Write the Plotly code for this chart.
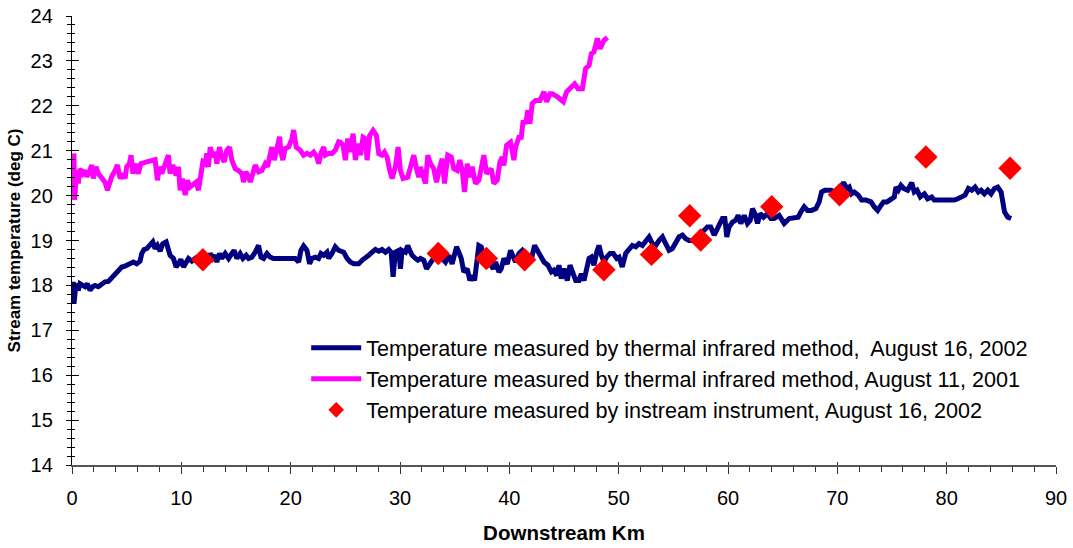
import plotly.graph_objects as go

# ---------------- data ----------------
ir2002_km = [0.12, 0.18, 0.37, 0.58, 0.73, 0.98, 1.19, 1.40, 1.65, 1.89, 2.11, 2.41, 2.72, 3.02, 3.33, 3.54,
             3.79, 4.09, 4.33, 4.55, 4.85, 5.07, 5.31, 5.62, 5.92, 6.23, 6.38, 6.59, 6.84, 7.14, 7.39, 7.60,
             7.81, 8.06, 8.30, 8.61, 8.82, 8.97, 9.28, 9.52, 9.74, 9.95, 10.20, 10.44, 10.65, 10.96, 11.26,
             11.57, 11.87, 12.18, 12.48, 12.64, 12.88, 13.10, 13.25, 13.49, 13.70, 14.01, 14.32, 14.62, 14.83,
             15.08, 15.38, 15.63, 15.93, 16.15, 16.45, 16.76, 17.06, 17.28, 17.52, 17.83, 18.13, 18.44, 18.89,
             19.96, 20.42, 20.73, 20.94, 21.18, 21.49, 21.73, 21.95, 22.25, 22.56, 22.77, 23.02, 23.32, 23.47,
             23.78, 24.08, 24.39,
             24.85, 25.16, 25.46, 25.77, 26.22, 26.53, 26.83, 27.14, 27.45, 27.75, 28.06, 28.36, 28.67, 28.97,
             29.19, 29.37, 29.58, 29.89, 30.04, 30.19, 30.50, 30.71, 30.89, 31.11, 31.41, 31.63, 31.87, 32.18,
             32.42, 32.63, 32.94, 33.25, 33.55, 33.86, 34.16, 34.47, 34.77, 34.99, 35.17, 35.38, 35.60, 35.84,
             36.15, 36.39, 36.60, 36.82, 37.00, 37.21, 37.43, 37.67, 37.92, 38.22, 38.53, 38.74, 39.05, 39.26,
             39.50, 39.81, 40.11, 40.36, 40.57, 40.88, 41.18, 41.64, 41.95, 42.31, 42.56, 42.86, 43.17, 43.53,
             43.84, 44.08, 44.33, 44.54, 44.75, 45.00, 45.30, 45.55, 45.76, 46.07, 46.37, 46.58, 46.83, 47.07,
             47.29, 47.50, 47.74, 47.99, 48.20, 48.42, 48.66, 48.90, 49.21, 49.51, 49.82, 50.03,
             50.33, 50.64, 50.94, 51.25, 51.56, 51.86, 52.17, 52.47, 52.78, 53.08, 53.39, 53.69, 54.00, 54.30,
             54.61, 54.91, 55.22, 55.52, 55.83, 56.13, 56.44, 56.74, 57.20, 57.81, 58.12, 58.42, 58.73, 58.88,
             59.19, 59.49, 59.71, 59.89, 60.10, 60.41, 60.71, 60.93, 61.17, 61.48, 61.78, 62.03, 62.24, 62.45,
             62.70, 62.94, 63.25, 63.61, 63.92, 64.22, 64.68, 65.14, 65.60, 66.05, 66.42, 66.67, 66.97, 67.28,
             67.64, 68.04, 68.34, 68.56, 68.86, 69.41, 69.87, 70.17, 70.57, 70.88, 71.09, 71.30, 71.55, 71.92,
             72.22, 72.62, 73.08, 73.38, 73.69, 73.99, 74.23, 74.54, 74.91, 75.21, 75.36, 75.58, 75.82, 76.07,
             76.43, 76.80, 77.04, 77.29, 77.59, 77.96, 78.26, 78.63, 78.87, 79.48, 80.40, 80.71, 81.01, 81.32,
             81.68, 81.99, 82.29, 82.60, 82.90, 83.15, 83.45, 83.76, 84.06, 84.37, 84.67, 84.98, 85.29, 85.59,
             85.90]
ir2002_temp = [18.08, 17.59, 18.04, 17.89, 18.04, 18.00, 17.97, 18.04, 17.89, 17.97, 18.00, 17.97, 18.04, 18.08,
               18.09, 18.15, 18.22, 18.30, 18.37, 18.41, 18.43, 18.46, 18.48, 18.52, 18.48, 18.54, 18.71, 18.80,
               18.82, 18.89, 18.97, 18.82, 18.89, 18.76, 18.93, 18.97, 18.78, 18.67, 18.60, 18.41, 18.48, 18.58,
               18.41, 18.52, 18.60, 18.54, 18.60, 18.52, 18.60, 18.52, 18.60, 18.71, 18.60, 18.67, 18.52, 18.71,
               18.60, 18.71, 18.60, 18.71, 18.78, 18.60, 18.71, 18.60, 18.67, 18.60, 18.63, 18.74, 18.89, 18.63,
               18.60, 18.71, 18.63, 18.60, 18.60, 18.60, 18.60, 18.52, 18.78, 18.88, 18.78, 18.48, 18.60, 18.63,
               18.60, 18.71, 18.67, 18.74, 18.60, 18.71, 18.86, 18.78,
               18.74, 18.60, 18.52, 18.48, 18.48, 18.56, 18.60, 18.67, 18.74, 18.80, 18.76, 18.80, 18.74, 18.80,
               18.74, 18.19, 18.74, 18.78, 18.37, 18.78, 18.74, 18.89, 18.78, 18.67, 18.60, 18.56, 18.60, 18.56,
               18.37, 18.45, 18.52, 18.67, 18.63, 18.60, 18.52, 18.67, 18.48, 18.74, 18.86, 18.74, 18.60, 18.30,
               18.37, 18.11, 18.22, 18.11, 18.60, 18.89, 18.86, 18.63, 18.52, 18.48, 18.37, 18.52, 18.30, 18.37,
               18.60, 18.48, 18.78, 18.60, 18.52, 18.71, 18.78, 18.60, 18.52, 18.89, 18.78, 18.67, 18.52, 18.45,
               18.30, 18.34, 18.22, 18.45, 18.15, 18.37, 18.11, 18.45, 18.30, 18.11, 18.11, 18.26, 18.11, 18.45,
               18.60, 18.63, 18.45, 18.74, 18.89, 18.67, 18.52, 18.63, 18.71, 18.71, 18.60, 18.63,
               18.41, 18.71, 18.78, 18.89, 18.86, 18.93, 18.89, 18.97, 19.08, 18.93, 18.89, 19.00, 19.08, 18.93,
               18.78, 18.82, 18.93, 19.08, 19.12, 19.04, 19.00, 19.00, 19.08, 19.23, 19.30, 19.30, 19.12, 19.19,
               19.38, 19.49, 19.49, 19.08, 19.30, 19.41, 19.45, 19.56, 19.38, 19.56, 19.38, 19.45, 19.71, 19.60,
               19.38, 19.60, 19.52, 19.60, 19.49, 19.49, 19.56, 19.38, 19.49, 19.52, 19.52, 19.64, 19.75, 19.67,
               19.67, 19.71, 19.86, 20.08, 20.12, 20.12, 20.08, 20.12, 20.29, 20.16, 20.19, 20.04, 20.08, 20.01,
               19.90, 19.90, 19.86, 19.75, 19.67, 19.78, 19.86, 19.86, 19.93, 19.97, 20.19, 20.12, 20.23, 20.16,
               20.12, 20.29, 20.08, 20.12, 19.97, 20.04, 19.93, 19.97, 19.90, 19.90, 19.90, 19.90, 19.93, 19.97,
               20.01, 20.16, 20.12, 20.19, 20.08, 20.12, 20.04, 20.12, 20.04, 20.16, 20.19, 20.08, 19.64, 19.52,
               19.49]

ir2001_km = [0.18, 0.24, 0.43, 0.58, 0.73, 0.98, 1.19, 1.34, 1.59, 1.80, 1.95, 2.20, 2.41, 2.72, 3.02, 3.24,
             3.42, 3.63, 3.94, 4.15, 4.40, 4.64, 4.85, 5.00, 5.25, 5.40, 5.56, 5.77, 6.07, 6.29, 6.84, 7.60,
             7.81, 8.00, 8.21, 8.52, 8.82, 8.97, 9.22, 9.52, 9.74, 9.89, 10.10, 10.35, 10.56, 10.80, 11.05,
             11.36, 11.57, 11.78, 11.97, 12.18, 12.33, 12.48, 12.64, 12.88, 13.10, 13.25, 13.49, 13.70, 13.92,
             14.16, 14.41, 14.62, 14.93, 15.23, 15.54, 15.69, 15.90, 16.15, 16.30, 16.54, 16.76, 17.06, 17.37,
             17.68, 17.89, 18.07, 18.28, 18.50, 18.74, 18.99, 19.11, 19.29, 19.50, 19.81, 20.12, 20.27, 20.51,
             20.88, 21.18, 21.49, 21.80, 22.10, 22.40, 22.56, 22.77, 23.02, 23.17, 23.47, 23.78, 24.08, 24.39,
             24.55, 24.79, 25.00, 25.22, 25.46, 25.71, 25.92, 26.13, 26.38, 26.62, 26.83, 26.99, 27.23, 27.54,
             27.84, 28.06, 28.36, 28.58, 28.82, 29.06, 29.28, 29.58, 29.83, 30.04, 30.28, 30.71, 30.96, 31.26,
             31.51, 31.72, 31.87, 32.12, 32.33, 32.54, 32.79, 33.09, 33.34, 33.64, 33.86, 34.07, 34.37, 34.68,
             34.92, 35.23, 35.47, 35.69, 35.90, 36.15, 36.39, 36.60, 36.91, 37.21, 37.43, 37.67, 37.92, 38.13,
             38.34, 38.59, 38.89, 39.14, 39.35, 39.50, 39.75, 40.11, 40.42, 40.57, 40.88, 41.09, 41.27, 41.49,
             41.70, 41.88, 42.10, 42.40, 42.80, 43.17, 43.41, 43.72, 43.93, 44.39, 44.94, 45.24, 45.67, 45.97,
             46.28, 46.68, 46.98, 47.29, 47.50, 47.74, 48.05, 48.30, 48.66, 48.97]
ir2001_temp = [20.94, 19.90, 20.56, 20.27, 20.60, 20.49, 20.56, 20.42, 20.53, 20.68, 20.38, 20.64, 20.49, 20.38,
               20.30, 20.12, 20.27, 20.42, 20.56, 20.68, 20.38, 20.49, 20.38, 20.64, 20.71, 20.90, 20.49, 20.71,
               20.49, 20.71, 20.75, 20.80, 20.34, 20.64, 20.49, 20.68, 20.90, 20.49, 20.68, 20.45, 20.64, 20.12,
               20.38, 20.01, 20.34, 20.19, 20.23, 20.30, 20.12, 20.56, 20.75, 20.71, 20.94, 20.64, 21.08, 20.86,
               20.97, 20.71, 21.08, 20.86, 20.75, 21.01, 21.08, 20.79, 20.60, 20.56, 20.49, 20.30, 20.53, 20.42,
               20.30, 20.49, 20.68, 20.53, 20.56, 20.71, 20.64, 20.86, 21.08, 20.79, 21.12, 21.31, 20.97, 20.79,
               21.05, 21.08, 21.27, 21.46, 21.08, 21.01, 20.90, 20.94, 20.90, 20.97, 20.86, 20.71, 20.94, 21.08,
               20.90, 20.94, 20.94, 21.01, 21.20,
               21.19, 21.12, 20.79, 21.27, 20.97, 21.38, 20.79, 21.16, 20.90, 21.30, 21.27, 20.79, 21.34, 21.45,
               21.34, 20.93, 20.90, 20.97, 20.86, 20.56, 20.38, 20.64, 21.08, 20.56, 20.38, 20.41, 20.64, 20.90,
               20.60, 20.41, 20.64, 20.41, 20.27, 20.90, 20.71, 20.60, 20.30, 20.64, 20.82, 20.27, 20.90, 20.86,
               20.60, 20.56, 20.79, 20.56, 20.08, 20.71, 20.41, 20.64, 20.27, 20.34, 20.64, 20.90, 20.49, 20.56,
               20.60, 20.27, 20.34, 20.75, 20.86, 20.67, 21.12, 21.19, 20.79, 21.08, 21.30, 21.30, 21.68, 21.60,
               21.90, 21.60, 22.05, 22.12, 22.12, 22.31, 22.09, 22.27, 22.27, 22.20, 22.09, 22.31, 22.42, 22.49,
               22.38, 22.38, 22.83, 22.90, 23.16, 23.20, 23.50, 23.27, 23.46, 23.52]

probe_km = [11.97, 33.5, 37.9, 41.4, 48.65, 53.0, 56.5, 57.5, 64.0, 70.2, 78.1, 85.8]
probe_temp = [18.57, 18.71, 18.60, 18.57, 18.35, 18.69, 19.55, 19.01, 19.75, 20.02, 20.86, 20.61]

names = ["Temperature measured by thermal infrared method,  August 16, 2002",
         "Temperature measured by thermal infrared method, August 11, 2001",
         "Temperature measured by instream instrument, August 16, 2002"]

x_ticks = [0, 10, 20, 30, 40, 50, 60, 70, 80, 90]
y_ticks = [14, 15, 16, 17, 18, 19, 20, 21, 22, 23, 24]

FONT = "Liberation Sans, Arial, sans-serif"

fig = go.Figure()
fig.add_trace(go.Scatter(x=ir2002_km, y=ir2002_temp, mode="lines", name=names[0],
                         legendgroup="a", line=dict(color="#000080", width=5)))
fig.add_trace(go.Scatter(x=ir2001_km, y=ir2001_temp, mode="lines", name=names[1],
                         legendgroup="b", line=dict(color="#FF00FF", width=5)))
fig.add_trace(go.Scatter(x=probe_km, y=probe_temp, mode="markers", name=names[2],
                         legendgroup="c",
                         marker=dict(symbol="diamond", size=18, color="#FF0000", line=dict(width=0))))
# empty trace on overlay axes (for inward half of crossing ticks)
fig.add_trace(go.Scatter(x=[], y=[], xaxis="x2", yaxis="y2", showlegend=False, hoverinfo="skip"))

fig.update_layout(
    width=1073, height=548,
    margin=dict(l=72, r=17, t=16, b=83, autoexpand=False),
    paper_bgcolor="white", plot_bgcolor="white",
    font=dict(family=FONT, color="black"),
    showlegend=True,
    legend=dict(x=0.238, y=0.307, xanchor="left", yanchor="top",
                font=dict(family=FONT, size=21.6, color="black"),
                bgcolor="rgba(0,0,0,0)", itemwidth=50, tracegroupgap=4,
                itemsizing="constant", traceorder="normal"),
    xaxis=dict(range=[0, 90], tickvals=x_ticks, ticks="outside", ticklen=7, tickcolor="#333",
               showline=True, linecolor="#555", linewidth=2, showgrid=False, zeroline=False,
               automargin=False,
               tickfont=dict(family=FONT, size=20), ticklabelstandoff=7,
               minor=dict(dtick=2, ticks="outside", ticklen=5, tickcolor="#333"),
               title=dict(text="<b>Downstream Km</b>", font=dict(family=FONT, size=20.5), standoff=18)),
    yaxis=dict(range=[14, 24], tickvals=y_ticks, ticks="outside", ticklen=5, tickcolor="black",
               showline=True, linecolor="black", linewidth=1.3, showgrid=False, zeroline=False,
               automargin=False,
               tickfont=dict(family=FONT, size=20), ticklabelstandoff=9,
               minor=dict(dtick=0.2, ticks="outside", ticklen=4, tickcolor="black"),
               title=dict(text="<b>Stream temperature (deg C)</b>", font=dict(family=FONT, size=17),
                          standoff=5)),
    xaxis2=dict(range=[0, 90], overlaying="x", anchor="y2", side="bottom", tickvals=x_ticks,
                ticks="inside", ticklen=3, tickcolor="#333", showticklabels=False,
                showgrid=False, zeroline=False, showline=False, automargin=False),
    yaxis2=dict(range=[14, 24], overlaying="y", anchor="x2", side="left", tickvals=y_ticks,
                ticks="inside", ticklen=7, tickcolor="black", showticklabels=False,
                showgrid=False, zeroline=False, showline=False, automargin=False,
                minor=dict(dtick=0.2, ticks="inside", ticklen=3, tickcolor="black")),
)

fig.write_html("out.html")
